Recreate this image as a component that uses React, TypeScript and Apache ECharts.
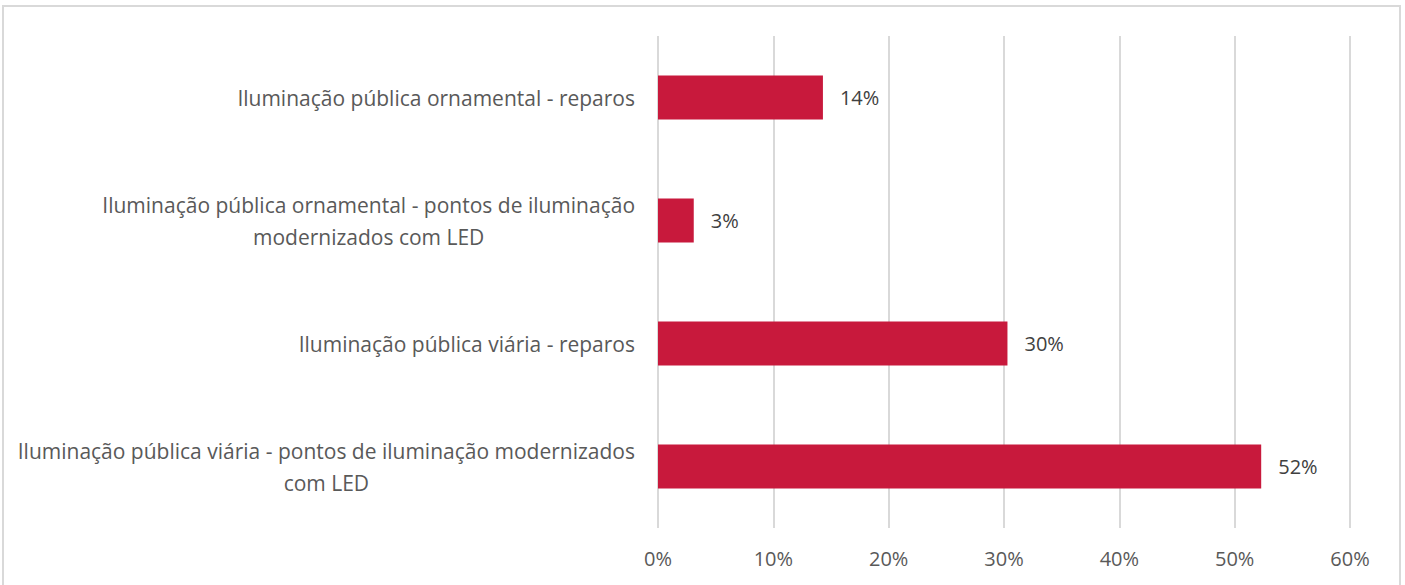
import React, { useEffect, useRef } from "react";
import * as echarts from "echarts";

const categories: string[] = [
  "Iluminação pública viária - pontos de iluminação modernizados\ncom LED",
  "Iluminação pública viária - reparos",
  "Iluminação pública ornamental - pontos de iluminação\nmodernizados com LED",
  "Iluminação pública ornamental - reparos",
];
const values: number[] = [52.3, 30.3, 3.1, 14.3];
const xTicks: number[] = [0, 10, 20, 30, 40, 50, 60];

const LABEL_COLOR = "#595959";
const BAR_COLOR = "#C8193C";
const FONT = "'Open Sans', sans-serif";

export default function App() {
  const ref = useRef<HTMLDivElement>(null);
  useEffect(() => {
    if (!ref.current) return;
    const chart = echarts.init(ref.current, undefined, { renderer: "svg" });
    chart.setOption({
      animation: false,
      backgroundColor: "#ffffff",
      grid: { left: 658, right: 55, top: 36, bottom: 57, containLabel: false },
      graphic: [
        {
          type: "rect",
          shape: { x: 3, y: 6, width: 1397, height: 600 },
          style: { fill: "none", stroke: "#d9d9d9", lineWidth: 2 },
          silent: true,
        },
      ],
      xAxis: {
        type: "value",
        min: xTicks[0],
        max: xTicks[xTicks.length - 1],
        interval: 10,
        axisLine: { show: false },
        axisTick: { show: false },
        splitLine: { show: true, lineStyle: { color: "#d9d9d9", width: 2 } },
        axisLabel: {
          formatter: (v: number) => `${v}%`,
          color: LABEL_COLOR,
          fontFamily: FONT,
          fontSize: 20,
          margin: 20,
        },
      },
      yAxis: {
        type: "category",
        data: categories,
        axisLine: { show: false },
        axisTick: { show: false },
        splitLine: { show: false },
        axisLabel: {
          color: LABEL_COLOR,
          fontFamily: FONT,
          fontSize: 21,
          margin: 23,
          align: "right",
          lineHeight: 32,
          formatter: (v: string) =>
            v
              .split("\n")
              .map((l) => `{c|${l}}`)
              .join("\n"),
          rich: {
            c: {
              align: "center",
              color: LABEL_COLOR,
              fontFamily: FONT,
              fontSize: 21,
              lineHeight: 32,
            },
          },
        },
      },
      series: [
        {
          type: "bar",
          data: values,
          barWidth: 44,
          itemStyle: { color: BAR_COLOR },
          label: {
            show: true,
            position: "right",
            distance: 17,
            color: "#404040",
            fontFamily: FONT,
            fontSize: 20,
            formatter: (p: any) => `${Math.round(p.value)}%`,
          },
        },
      ],
    });
    return () => chart.dispose();
  }, []);
  return (
    <div
      ref={ref}
      style={{ position: "absolute", left: 0, top: 0, width: 1405, height: 585 }}
    />
  );
}
